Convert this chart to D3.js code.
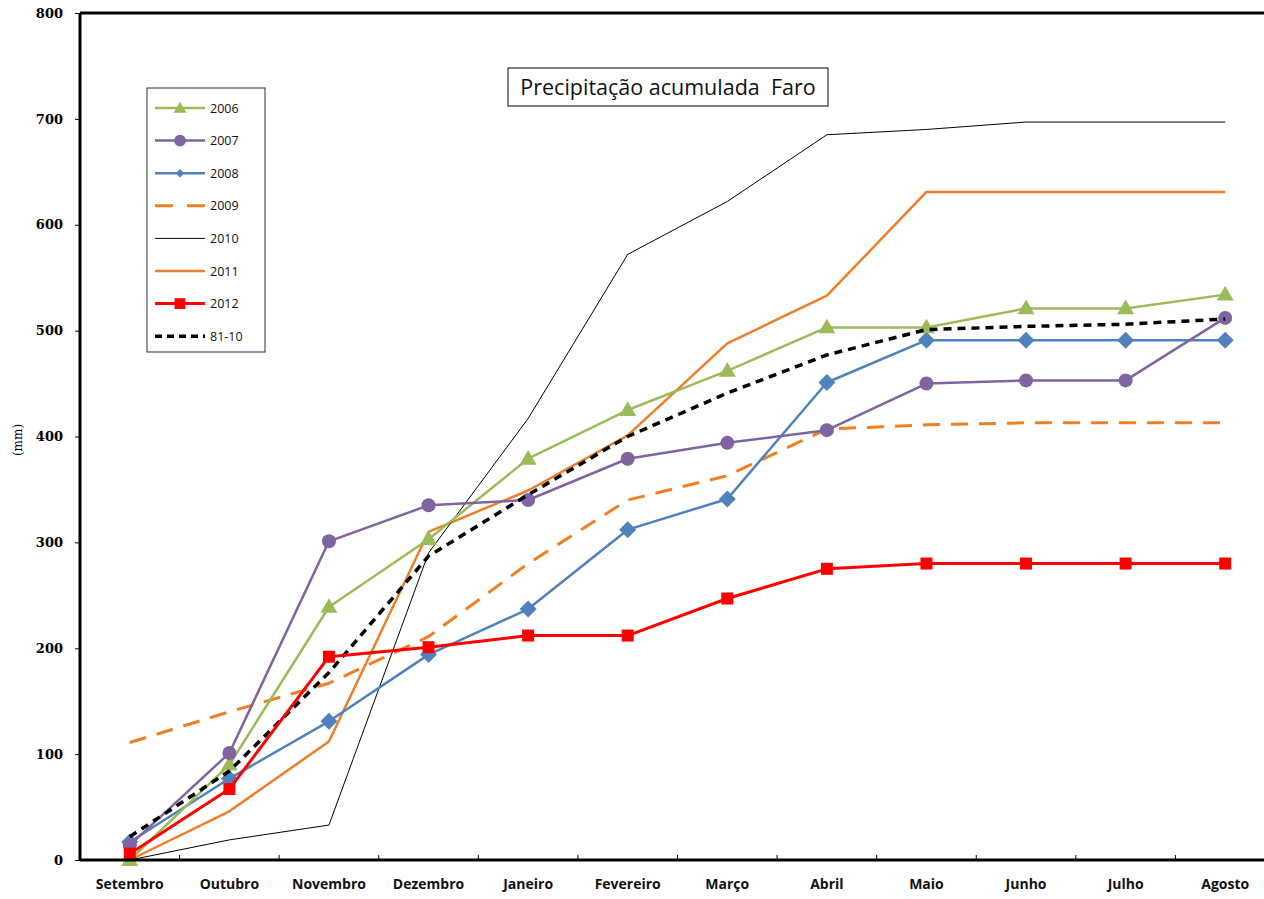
<!DOCTYPE html>
<html><head><meta charset="utf-8">
<script src="https://cdn.jsdelivr.net/npm/d3@7"></script>
<style>body{margin:0;background:#fff;overflow:hidden}</style>
</head><body><svg id="c" width="1264" height="899"></svg>
<script>
const months = ["Setembro","Outubro","Novembro","Dezembro","Janeiro","Fevereiro","Março","Abril","Maio","Junho","Julho","Agosto"];
const yTicks = [0,100,200,300,400,500,600,700,800];
const s2006 = [0,90,239,303,379,425,462,503,503,521,521,534];
const s2007 = [14,101,301,335,340,379,394,406,450,453,453,512];
const s2008 = [17,77,131,194,237,312,341,451,491,491,491,491];
const s2009 = [111,140,167,211,280,340,363,407,411,413,413,413];
const s2010 = [0,19,33,290,417,572,622,685,690,697,697,697];
const s2011 = [0,46,112,310,349,401,488,533,631,631,631,631];
const s2012 = [6,67,192,201,212,212,247,275,280,280,280,280];
const s8110 = [22,84,177,287,345,400,441,477,501,504,506,511];
const seriesNames = ["2006","2007","2008","2009","2010","2011","2012","81-10"];

const series = [
 {name:seriesNames[0], values:s2006, color:"#9BBB59", width:2.5, dash:null, marker:"triangle"},
 {name:seriesNames[1], values:s2007, color:"#8064A2", width:2.5, dash:null, marker:"circle"},
 {name:seriesNames[2], values:s2008, color:"#4F81BD", width:2.5, dash:null, marker:"diamond"},
 {name:seriesNames[3], values:s2009, color:"#F07F23", width:3, dash:"17,11", marker:null},
 {name:seriesNames[4], values:s2010, color:"#000000", width:1, dash:null, marker:null},
 {name:seriesNames[5], values:s2011, color:"#EE7E2A", width:2.5, dash:null, marker:null},
 {name:seriesNames[6], values:s2012, color:"#FF0000", width:3, dash:null, marker:"square"},
 {name:seriesNames[7], values:s8110, color:"#000000", width:3.5, dash:"8,6", marker:null}
];

const svg = d3.select("#c");
const pL = 80, pR = 1275, pT = 13, pB = 860;
const xb = d3.scaleBand().domain(months).range([pL, pR]);
const x = d3.scalePoint().domain(months).range([pL, pR]).padding(0.5);
const y = d3.scaleLinear().domain([0,800]).range([pB, pT]);

function drawMarker(g, type, cx, cy, color, sc){
  sc = sc || 1;
  if(type==="circle") g.append("circle").attr("cx",cx).attr("cy",cy).attr("r",7*sc).attr("fill",color);
  else if(type==="triangle") g.append("path").attr("d",d3.symbol(d3.symbolTriangle,125*sc*sc)()).attr("transform",`translate(${cx},${cy+1})`).attr("fill",color);
  else if(type==="diamond") g.append("rect").attr("x",-6*sc).attr("y",-6*sc).attr("width",12*sc).attr("height",12*sc).attr("transform",`translate(${cx},${cy}) rotate(45)`).attr("fill",color);
  else if(type==="square") g.append("rect").attr("x",cx-6*sc).attr("y",cy-6*sc).attr("width",12*sc).attr("height",12*sc).attr("fill",color);
}

const line = d3.line().x((d,i)=>x(months[i])).y(d=>y(d));
const plot = svg.append("g");
const order = [5,3,4,2,0,1,7,6];
order.forEach(k=>{
  const s = series[k];
  plot.append("path").datum(s.values).attr("d",line).attr("fill","none")
    .attr("stroke",s.color).attr("stroke-width",s.width)
    .attr("stroke-dasharray",s.dash).attr("stroke-linejoin","round");
  if(s.marker){
    const mg = plot.append("g");
    s.values.forEach((v,i)=>drawMarker(mg,s.marker,x(months[i]),y(v),s.color));
  }
});

const yAxis = svg.append("g").attr("transform",`translate(${pL},0)`)
  .call(d3.axisLeft(y).tickValues(yTicks).tickSize(5).tickPadding(12));
yAxis.select(".domain").remove();
yAxis.selectAll("line").attr("stroke","#000");
yAxis.selectAll("text").attr("font-family","'DejaVu Serif', serif").attr("font-weight","bold").attr("font-size","13px").attr("fill","#000");

const xAxis = svg.append("g").attr("transform",`translate(0,${pB})`)
  .call(d3.axisBottom(xb).tickSize(0).tickPadding(19));
xAxis.select(".domain").remove();
xAxis.selectAll("text").attr("font-family","'Open Sans', sans-serif").attr("font-weight","bold").attr("font-size","14px").attr("fill","#111");
svg.append("g").selectAll("line").data(months.slice(1)).join("line")
  .attr("x1",d=>xb(d)).attr("x2",d=>xb(d)).attr("y1",pB).attr("y2",pB-5)
  .attr("stroke","#000").attr("stroke-width",1);

svg.append("line").attr("x1",pL).attr("x2",1264).attr("y1",pB).attr("y2",pB).attr("stroke","#000").attr("stroke-width",3);
svg.append("line").attr("x1",pL).attr("x2",pL).attr("y1",pT).attr("y2",pB).attr("stroke","#000").attr("stroke-width",3);
svg.append("line").attr("x1",pL).attr("x2",1264).attr("y1",pT).attr("y2",pT).attr("stroke","#000").attr("stroke-width",3);

svg.append("text").attr("transform","translate(22,440) rotate(-90)").attr("text-anchor","middle")
  .attr("font-family","'DejaVu Serif', serif").attr("font-size","12px").text("(mm)");

svg.append("rect").attr("x",508).attr("y",68).attr("width",320).attr("height",38).attr("fill","#fff").attr("stroke","#000").attr("stroke-width",1);
svg.append("text").attr("x",668).attr("y",95).attr("text-anchor","middle").style("white-space","pre")
  .attr("font-family","'Open Sans', sans-serif").attr("font-size","21.5px").attr("fill","#111").text("Precipitação acumulada  Faro");

const lg = svg.append("g");
lg.append("rect").attr("x",147).attr("y",88).attr("width",118).attr("height",264).attr("fill","#fff").attr("stroke","#333").attr("stroke-width",1);
series.forEach((s,i)=>{
  const yy = 108 + i*32.6;
  lg.append("line").attr("x1",155).attr("x2",205).attr("y1",yy).attr("y2",yy)
    .attr("stroke",s.color).attr("stroke-width",s.width).attr("stroke-dasharray",s.dash ? (i===3?"18,14":"7,5"):null);
  if(s.marker) drawMarker(lg, s.marker, 180, yy, s.color, s.marker==="triangle"?0.75:(s.marker==="diamond"?0.5:(s.marker==="circle"?0.85:0.9)));
  lg.append("text").attr("x",210).attr("y",yy+4.5).attr("font-family","'Open Sans', sans-serif").attr("font-size","12.5px").attr("fill","#111").text(s.name);
});
</script></body></html>
